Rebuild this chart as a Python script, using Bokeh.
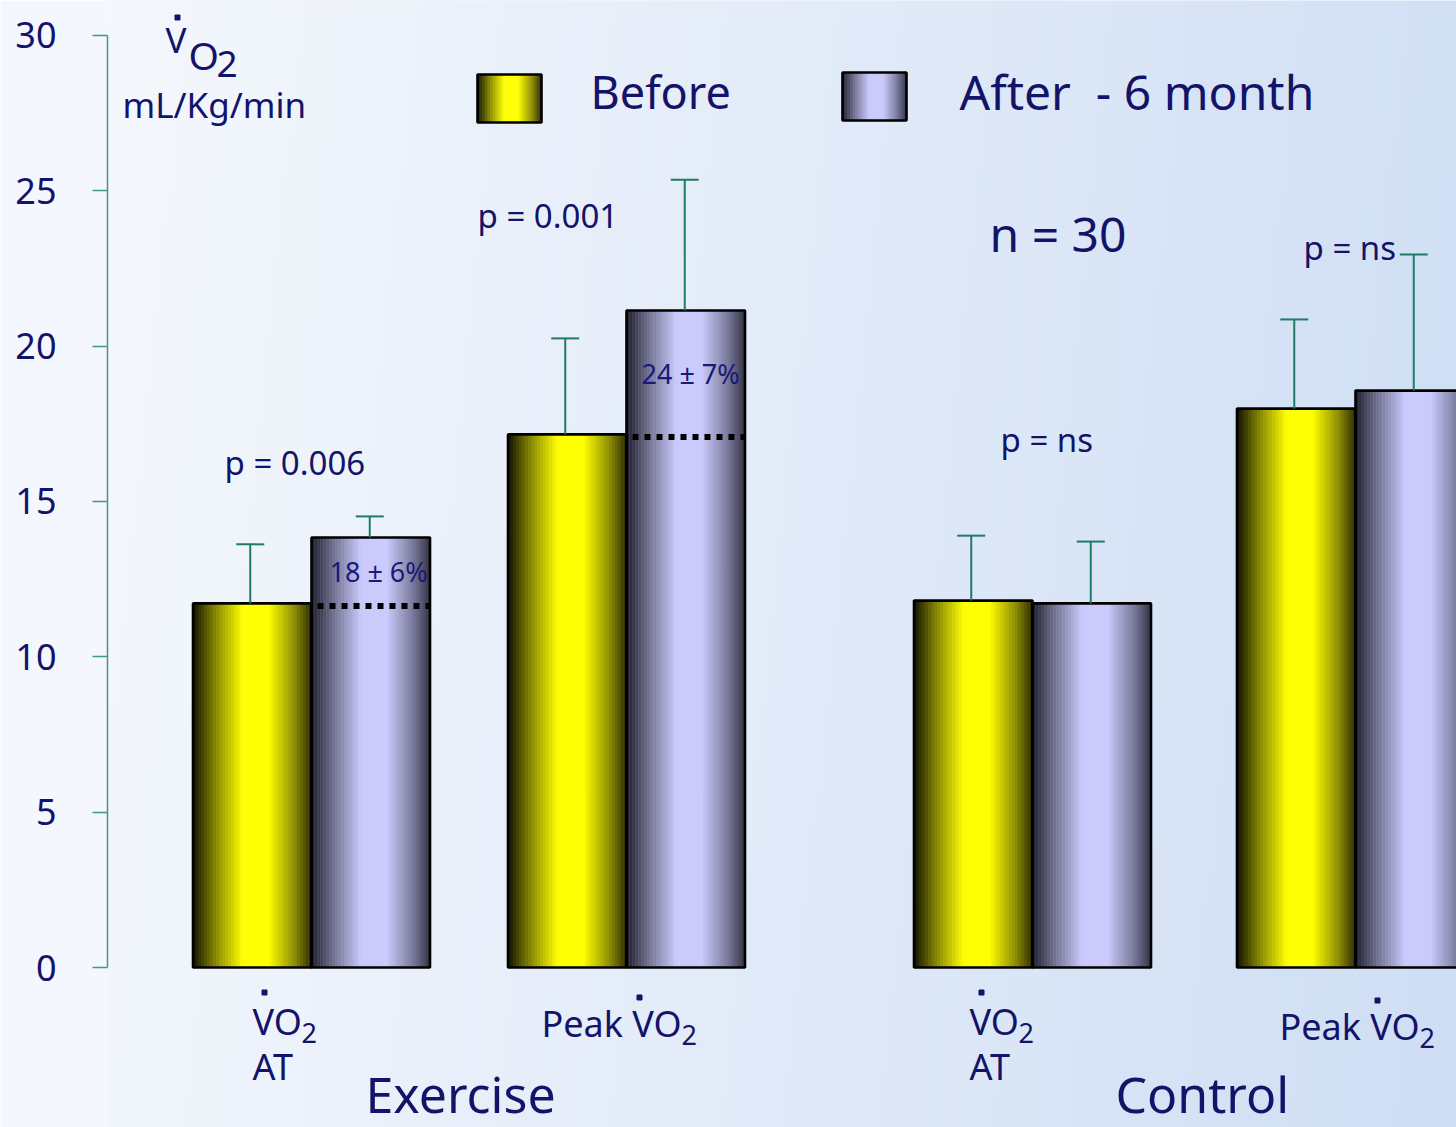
import numpy as np
from bokeh.plotting import figure
from bokeh.models import Range1d, FixedTicker, ColumnDataSource
from bokeh.core.properties import value
from bokeh.embed import file_html
from bokeh.resources import INLINE

# ---------------- data ----------------
groups = ["Exercise", "Control"]
measures = ["VO2 AT", "Peak VO2", "VO2 AT", "Peak VO2"]
before_mean = [11.72, 17.16, 11.81, 17.99]
before_sd = [1.90, 3.09, 2.09, 2.87]
after_mean = [13.84, 21.15, 11.72, 18.57]
after_sd = [0.68, 4.21, 1.99, 4.38]
p_values = ["0.006", "0.001", "ns", "ns"]
pct_change = ["18 \u00b1 6%", "24 \u00b1 7%", None, None]
y_ticks = [0, 5, 10, 15, 20, 25, 30]
n_patients = 30

# ---------------- layout / style ----------------
NAVY = "#13136a"
TEAL = "#1f7a66"
FONT = "Noto Sans"
pair_centers = [311, 626, 1032, 1355]   # horizontal layout (px units of x range)
bar_w = 118.5
Y0, PXU = 967.0, 31.067                  # reference y of 0, pixels per unit
WIDTH, HEIGHT = 1456, 1127


def yv(ref_y):
    return (Y0 - ref_y) / PXU


p = figure(width=WIDTH, height=HEIGHT, x_range=Range1d(107, WIDTH),
           y_range=Range1d(yv(HEIGHT), yv(0)), output_backend="svg",
           toolbar_location=None, x_axis_location=None,
           min_border_left=107, min_border_right=0, min_border_top=0,
           min_border_bottom=0)
p.grid.visible = False
p.outline_line_color = None
p.border_fill_color = "#f4f7fd"
p.background_fill_color = "#e6eef9"

# background gradient
W, H = 300, 40
xs = np.linspace(0, 1, W)
ys = np.linspace(0, 1, H)[:, None]
c_left = np.array([245, 248, 253])
c_right = np.array([207, 222, 244])
t = np.clip(xs[None, :] * 0.92 + (1 - ys) * 0.08, 0, 1)
img = np.zeros((H, W), dtype=np.uint32)
view = img.view(dtype=np.uint8).reshape((H, W, 4))
for k in range(3):
    view[:, :, k] = (c_left[k] + (c_right[k] - c_left[k]) * t).astype(np.uint8)
view[:, :, 3] = 255
p.image_rgba(image=[img], x=107, y=yv(HEIGHT), dw=WIDTH - 107,
             dh=yv(0) - yv(HEIGHT))

# y axis
ax = p.yaxis[0]
ax.bounds = (0, 30)
ax.ticker = FixedTicker(ticks=y_ticks)
ax.minor_tick_line_color = None
ax.major_tick_in = 0
ax.major_tick_out = 15
ax.axis_line_color = "#3f9a85"
ax.major_tick_line_color = "#3f9a85"
ax.axis_line_width = 1.5
ax.major_tick_line_width = 1.5
ax.major_label_standoff = 36
ax.major_label_text_font = FONT
ax.major_label_text_font_size = "36px"
ax.major_label_text_color = NAVY


# gradient profile for the shaded bars
def profile(n):
    tt = (np.arange(n) + 0.5) / n
    return np.interp(tt, [0, 0.18, 0.42, 0.64, 0.86, 1.0],
                     [0.06, 0.5, 1.0, 1.0, 0.55, 0.18])


def shade(kind, n):
    v = profile(n)
    out = []
    for a in v:
        if kind == "before":
            r, g, b = 255 * a, 255 * a, 0
        else:
            r = 20 + (202 - 20) * a
            g = 20 + (202 - 20) * a
            b = 32 + (252 - 32) * a
        out.append("#%02x%02x%02x" % (int(r), int(g), int(b)))
    return out


NS = 40
strips = dict(left=[], right=[], bottom=[], top=[], color=[])
outl = dict(left=[], right=[], bottom=[], top=[])


def add_bar(x0, x1, b, tp, kind):
    cols = shade(kind, NS)
    w = (x1 - x0) / NS
    for i in range(NS):
        strips["left"].append(x0 + i * w)
        strips["right"].append(x0 + (i + 1) * w)
        strips["bottom"].append(b)
        strips["top"].append(tp)
        strips["color"].append(cols[i])
    outl["left"].append(x0)
    outl["right"].append(x1)
    outl["bottom"].append(b)
    outl["top"].append(tp)


for c, bm, am in zip(pair_centers, before_mean, after_mean):
    add_bar(c - bar_w, c, 0, bm, "before")
    add_bar(c, c + bar_w, 0, am, "after")

# legend swatches
add_bar(477, 541, yv(122), yv(74), "before")
add_bar(842, 906, yv(120), yv(72), "after")

ss = ColumnDataSource(strips)
p.quad(left="left", right="right", bottom="bottom", top="top", source=ss,
       fill_color="color", line_color="color", line_width=0.6)
p.quad(left="left", right="right", bottom="bottom", top="top",
       source=ColumnDataSource(outl), fill_color=None, line_color="black",
       line_width=2.6)

# error bars
ex, ey0, ey1 = [], [], []
for c, bm, bs, am, asd in zip(pair_centers, before_mean, before_sd, after_mean, after_sd):
    ex += [c - bar_w / 2 - 2, c + bar_w / 2 - 1]
    ey0 += [bm, am]
    ey1 += [bm + bs, am + asd]
p.segment(x0=ex, y0=ey0, x1=ex, y1=ey1, line_color=TEAL, line_width=2)
p.segment(x0=[x - 14 for x in ex], y0=ey1, x1=[x + 14 for x in ex], y1=ey1,
          line_color=TEAL, line_width=2)

# dotted "before" level inside the exercise after-bars
for i in range(2):
    c = pair_centers[i]
    p.segment(x0=[c + 6], y0=[before_mean[i] - 0.08], x1=[c + bar_w - 1],
              y1=[before_mean[i] - 0.08], line_color="black", line_width=6,
              line_dash="6 6")


def txt(x, ref_y, s, size, align="left", color=NAVY):
    # ref_y is the wanted baseline; bokeh draws ~0.4em lower, compensate
    p.text(x=[x], y=[yv(ref_y - 0.4 * size)], text=[s], text_font=value(FONT),
           text_font_size=value(f"{size}px"), text_color=color,
           text_align=align, text_baseline="alphabetic")


# dots for "V-dot"
dot_x, dot_y = [], []


def vdot(x, ref_y):
    dot_x.append(x)
    dot_y.append(yv(ref_y))


# y-axis title
vdot(177, 17)
txt(165, 53, "V", 35)
txt(188, 70, "O", 39)
txt(216, 78, "2", 37)
txt(122, 118, "mL/Kg/min", 35)

# legend texts
txt(590, 109, "Before", 45)
txt(959, 110, "After\u00a0 - 6 month", 48)

# n
txt(989, 252, f"n = {n_patients}", 48)

# p values
p_pos = [(224, 475), (477, 228), (1000, 452), (1303, 260)]
for (x, yy), pv in zip(p_pos, p_values):
    txt(x, yy, f"p = {pv}", 33)

# percentage changes
pc_pos = [(329, 582), (641, 384)]
for (x, yy), s in zip(pc_pos, pct_change[:2]):
    txt(x, yy, s, 27, color="#1a1a78")

# category labels
at_pos = [(252, 1035), (969, 1035)]
for x, yy in at_pos:
    vdot(x + 12, yy - 43)
    txt(x, yy, "VO", 36)
    txt(x + 49, yy + 8, "2", 27)
    txt(x, yy + 45, "AT", 36)
pk_pos = [(541, 1037), (1279, 1040)]
for x, yy in pk_pos:
    vdot(x + 98, yy - 40)
    txt(x, yy, "Peak VO", 36)
    txt(x + 140, yy + 8, "2", 27)

p.scatter(x=dot_x, y=dot_y, marker="square", size=5, fill_color=NAVY,
          line_color=NAVY)

txt(365, 1113, groups[0], 50)
txt(1115, 1113, groups[1], 50)

open("out.html", "w").write(file_html(p, INLINE))
